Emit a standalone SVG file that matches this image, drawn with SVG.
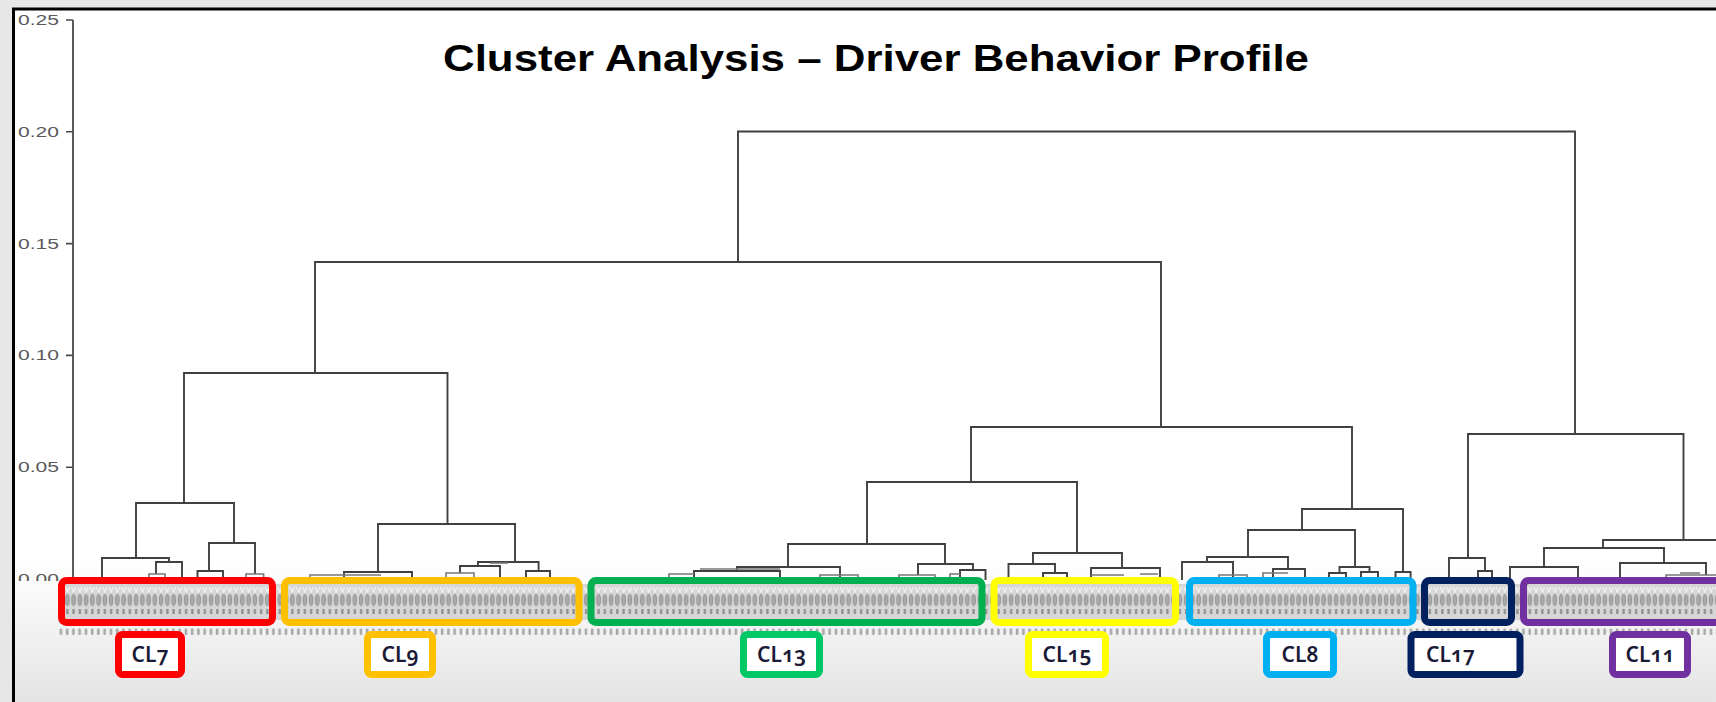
<svg xmlns="http://www.w3.org/2000/svg" width="1716" height="702" viewBox="0 0 1716 702">
<defs>
<style>
.tick{font-family:"Liberation Sans",Arial,sans-serif;font-size:14px;fill:#5a5a5a}
.title{font-family:"Liberation Sans",Arial,sans-serif;font-weight:bold;font-size:36px;fill:#000}
.ln{fill:none;stroke:#404040;stroke-width:1.9}
.mn{fill:none;stroke:#777;stroke-width:1.6}
.big{fill:none;stroke-width:7}
.lab{fill:#fff;stroke-width:7}
.lt{font-family:"Noto Sans","Open Sans",sans-serif;font-size:21px;font-weight:600;fill:#1a1a36;font-variant-numeric:oldstyle-nums}
</style>
<linearGradient id="bg" gradientUnits="userSpaceOnUse" x1="0" y1="560" x2="0" y2="702">
<stop offset="0" stop-color="#ffffff"/>
<stop offset="1" stop-color="#e4e4e4"/>
</linearGradient>
<pattern id="leaf" patternUnits="userSpaceOnUse" x="58" y="584" width="6.25" height="36">
<rect width="6.25" height="36" fill="#d6d6d6"/>
<path d="M1,3 L3.1,8 L5.2,3" fill="none" stroke="#f4f4f4" stroke-width="1.2"/>
<ellipse cx="3.1" cy="16" rx="1.9" ry="5.8" fill="#a9a9a9" stroke="#8a8a8a" stroke-width="0.8"/>
<rect x="2" y="25" width="2.2" height="5" fill="#8c8c8c"/>
</pattern>
<pattern id="num" patternUnits="userSpaceOnUse" x="58" y="628" width="6.25" height="8">
<rect x="1.6" y="0.5" width="2.6" height="6.5" rx="1" fill="#a8a8a8"/>
</pattern>
<clipPath id="plotclip"><rect x="0" y="0" width="1716" height="581"/></clipPath>
</defs>

<rect width="1716" height="702" fill="#e7e7e7"/>
<rect x="13.5" y="9" width="1712" height="700" fill="url(#bg)" stroke="#000" stroke-width="3"/>

<g id="title">
<text class="title" x="443" y="70.5" textLength="866" lengthAdjust="spacingAndGlyphs">Cluster Analysis – Driver Behavior Profile</text>
</g>

<g id="axis" clip-path="url(#plotclip)">
<line x1="73" y1="20" x2="73" y2="581" stroke="#4a4a4a" stroke-width="1.8"/>
<path d="M66,20H73M66,131.8H73M66,243.6H73M66,355.4H73M66,467.2H73M66,579H73" stroke="#4a4a4a" stroke-width="1.6"/>
<text class="tick" x="18" y="25" textLength="41" lengthAdjust="spacingAndGlyphs">0.25</text>
<text class="tick" x="18" y="136.8" textLength="41" lengthAdjust="spacingAndGlyphs">0.20</text>
<text class="tick" x="18" y="248.6" textLength="41" lengthAdjust="spacingAndGlyphs">0.15</text>
<text class="tick" x="18" y="360.4" textLength="41" lengthAdjust="spacingAndGlyphs">0.10</text>
<text class="tick" x="18" y="472.2" textLength="41" lengthAdjust="spacingAndGlyphs">0.05</text>
<text class="tick" x="18" y="584" textLength="41" lengthAdjust="spacingAndGlyphs">0.00</text>
</g>

<g id="connectors">
<path class="ln" d="M738,262V131.5H1575V434"/>
<path class="ln" d="M315,373V262H1161V427"/>
<path class="ln" d="M184,503V373H447.5V524"/>
<path class="ln" d="M136,558V503H234V543"/>
<path class="ln" d="M102,580V558H169V562"/>
<path class="ln" d="M156,574V562H182V580"/>
<path class="mn" d="M149,580V574H165V580"/>
<path class="ln" d="M209,571V543H255V574"/>
<path class="ln" d="M197.5,580V571H223V580"/>
<path class="mn" d="M246,580V574H263.6V580"/>
<path class="ln" d="M378,572V524H515V562"/>
<path class="ln" d="M344,580V572H412V580"/>
<path class="mn" d="M310,580V575H381"/>
<path class="ln" d="M478,566V562H538.6V571"/>
<path class="ln" d="M460,573V566H500V580"/>
<path class="mn" d="M446,580V573H474V580"/>
<path class="mn" d="M490,563H508"/>
<path class="ln" d="M526,580V571H550V580"/>
<path class="ln" d="M971,482V427H1352V509"/>
<path class="ln" d="M867,544V482H1077V553"/>
<path class="ln" d="M788,567V544H945V564"/>
<path class="ln" d="M737,571V567H840V580"/>
<path class="ln" d="M694,580V571H780V580"/>
<path class="mn" d="M669,580V574H694M700,569H780"/>
<path class="mn" d="M820,580V575H858V580"/>
<path class="ln" d="M918,575V564H973V570"/>
<path class="mn" d="M899,580V575H935V580"/>
<path class="ln" d="M960,580V570H985.5V580"/>
<path class="mn" d="M950,580V574H960"/>
<path class="ln" d="M1033,564V553H1122V568"/>
<path class="ln" d="M1008.5,580V564H1055V573"/>
<path class="ln" d="M1043,580V573H1067V580"/>
<path class="ln" d="M1091,580V568H1160V580"/>
<path class="mn" d="M1091,575H1124M1140,574H1158"/>
<path class="ln" d="M1302,530V509H1403V572"/>
<path class="ln" d="M1248,557V530H1355V567"/>
<path class="ln" d="M1207,562V557H1288V569"/>
<path class="ln" d="M1182,580V562H1233V580"/>
<path class="mn" d="M1219,580V575H1247V580"/>
<path class="ln" d="M1273,580V569H1305V580"/>
<path class="mn" d="M1263,580V573H1288"/>
<path class="ln" d="M1339.5,573V567H1369.5V572"/>
<path class="ln" d="M1329,580V573H1346V580"/>
<path class="ln" d="M1361,580V572H1378V580"/>
<path class="ln" d="M1395.5,580V572H1410.6V580"/>
<path class="ln" d="M1468,558V434H1683.5V540"/>
<path class="ln" d="M1449,580V558H1485V571"/>
<path class="ln" d="M1478,580V571H1492V580"/>
<path class="ln" d="M1603,548V540H1720"/>
<path class="ln" d="M1544,567V548H1664V563"/>
<path class="ln" d="M1510,580V567H1578V580"/>
<path class="ln" d="M1620,580V563H1706V575"/>
<path class="mn" d="M1666,580V575H1716M1680,573H1700"/>
</g>

<g id="leaf-labels">
<rect x="58" y="584" width="1660" height="36" fill="url(#leaf)"/>
<rect x="58" y="628" width="1660" height="8" fill="url(#num)"/>
</g>

<g id="cl7">
<rect class="big" x="61.5" y="580.5" width="211" height="42" rx="5" stroke="#ff0000"/>
<rect class="lab" x="118.5" y="634.5" width="63" height="40" rx="4" stroke="#ff0000"/>
<text class="lt" x="150" y="662" text-anchor="middle">CL7</text>
</g>
<g id="cl9">
<rect class="big" x="284.5" y="580.5" width="294.5" height="42" rx="5" stroke="#ffc000"/>
<rect class="lab" x="367.5" y="634.5" width="65" height="40" rx="4" stroke="#ffc000"/>
<text class="lt" x="400" y="662" text-anchor="middle">CL9</text>
</g>
<g id="cl13">
<rect class="big" x="591" y="580.5" width="391" height="42" rx="5" stroke="#00b050"/>
<rect class="lab" x="743.5" y="634.5" width="76" height="40" rx="4" stroke="#00c864"/>
<text class="lt" x="781.5" y="662" text-anchor="middle">CL13</text>
</g>
<g id="cl15">
<rect class="big" x="994" y="580.5" width="181.5" height="42" rx="5" stroke="#ffff00"/>
<rect class="lab" x="1028.5" y="634.5" width="77" height="40" rx="4" stroke="#ffff00"/>
<text class="lt" x="1067" y="662" text-anchor="middle">CL15</text>
</g>
<g id="cl8">
<rect class="big" x="1189.5" y="580.5" width="223.5" height="42" rx="5" stroke="#00b0f0"/>
<rect class="lab" x="1266.5" y="634.5" width="67" height="40" rx="4" stroke="#00b0f0"/>
<text class="lt" x="1300" y="662" text-anchor="middle">CL8</text>
</g>
<g id="cl17">
<rect class="big" x="1424.5" y="580.5" width="87" height="42" rx="5" stroke="#002060"/>
<rect class="lab" x="1411" y="634.5" width="109" height="40" rx="4" stroke="#002060"/>
<text class="lt" x="1426" y="662">CL17</text>
</g>
<g id="cl11">
<rect class="big" x="1523.5" y="580.5" width="260" height="42" rx="5" stroke="#7030a0"/>
<rect class="lab" x="1612.5" y="634.5" width="75" height="40" rx="4" stroke="#7030a0"/>
<text class="lt" x="1650" y="662" text-anchor="middle">CL11</text>
</g>
</svg>
